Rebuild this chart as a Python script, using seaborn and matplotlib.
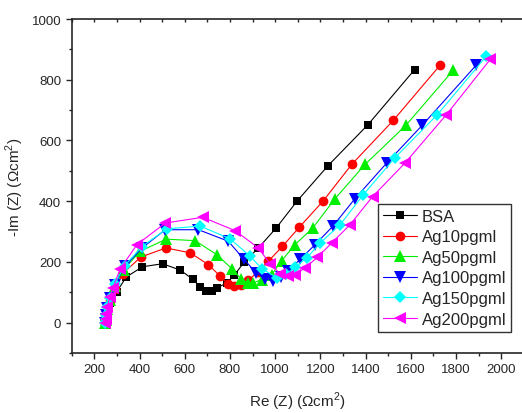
import matplotlib
matplotlib.use("Agg")
import matplotlib.pyplot as plt
import matplotlib.lines as mlines
import seaborn as sns
import pandas as pd
from matplotlib.ticker import MultipleLocator

series_names = ["BSA", "Ag10pgml", "Ag50pgml", "Ag100pgml", "Ag150pgml", "Ag200pgml"]

bsa_x = [248, 250, 253, 258, 268, 300, 341, 413, 502, 580, 636, 668, 694, 721, 745, 786, 819, 863, 926, 1004, 1098, 1233, 1411, 1617]
bsa_y = [0, 8, 20, 38, 65, 102, 150, 184, 194, 173, 143, 117, 104, 104, 115, 131, 156, 199, 246, 311, 401, 516, 652, 833]

ag10_x = [248, 250, 253, 258, 268, 290, 325, 406, 517, 624, 705, 757, 791, 819, 848, 882, 925, 970, 1032, 1107, 1213, 1339, 1523, 1729]
ag10_y = [0, 10, 22, 42, 70, 110, 161, 216, 246, 230, 191, 153, 128, 120, 124, 140, 168, 202, 251, 314, 401, 521, 666, 847]

ag50_x = [248, 250, 253, 258, 268, 290, 330, 403, 518, 646, 742, 808, 848, 880, 904, 941, 985, 1029, 1088, 1166, 1265, 1398, 1579, 1788]
ag50_y = [0, 10, 24, 45, 75, 120, 175, 235, 275, 270, 224, 178, 145, 130, 131, 142, 158, 204, 257, 311, 408, 521, 650, 831]

ag100_x = [248, 250, 253, 258, 268, 290, 335, 410, 514, 661, 793, 863, 916, 956, 992, 1025, 1059, 1110, 1177, 1255, 1353, 1493, 1651, 1891]
ag100_y = [0, 12, 25, 48, 80, 125, 185, 245, 306, 306, 268, 208, 164, 145, 137, 150, 171, 208, 257, 317, 408, 525, 650, 849]

ag150_x = [248, 250, 253, 258, 268, 290, 335, 410, 521, 668, 801, 889, 941, 1007, 1050, 1088, 1140, 1199, 1287, 1390, 1530, 1718, 1935]
ag150_y = [0, 12, 26, 50, 82, 128, 188, 250, 309, 318, 276, 219, 178, 148, 160, 183, 213, 262, 322, 421, 543, 685, 878]

ag200_x = [248, 250, 253, 258, 268, 283, 315, 389, 514, 680, 823, 926, 978, 1022, 1059, 1088, 1132, 1187, 1250, 1331, 1431, 1574, 1758, 1952]
ag200_y = [0, 12, 28, 52, 85, 115, 178, 257, 328, 347, 303, 246, 193, 161, 153, 158, 180, 215, 262, 322, 415, 525, 685, 867]

xs = [bsa_x, ag10_x, ag50_x, ag100_x, ag150_x, ag200_x]
ys = [bsa_y, ag10_y, ag50_y, ag100_y, ag150_y, ag200_y]

frames = []
for name, x, y in zip(series_names, xs, ys):
    frames.append(pd.DataFrame({"re": x, "im": y, "sample": name}))
df = pd.concat(frames, ignore_index=True)

colors = ["#000000", "#ff0000", "#00ee00", "#0000ff", "#00ffff", "#ff00ff"]
markers = ["s", "o", "^", "v", "D", "<"]
msizes = [6, 7, 8, 8, 6.5, 8]

sns.set_style("ticks")
plt.rcParams["font.family"] = ["Liberation Sans", "DejaVu Sans"]
plt.rcParams["mathtext.fontset"] = "custom"
plt.rcParams["mathtext.rm"] = "Liberation Sans"

fig = plt.figure(figsize=(5.22, 4.14), dpi=100)
ax = fig.add_axes([71.7 / 522, 60 / 414, 452 / 522, 334 / 414])

for name, c, m, ms in zip(series_names, colors, markers, msizes):
    sub = df[df["sample"] == name]
    sns.lineplot(data=sub, x="re", y="im", sort=False, estimator=None, color=c,
                 marker=m, markersize=ms, markeredgewidth=0, linewidth=0.8,
                 label=name, ax=ax)

ax.set_xlim(100, 2100)
ax.set_ylim(-100, 1000)
ax.xaxis.set_minor_locator(MultipleLocator(100))
ax.yaxis.set_minor_locator(MultipleLocator(100))
ax.set_xticks([200, 400, 600, 800, 1000, 1200, 1400, 1600, 1800, 2000])
ax.set_yticks([0, 200, 400, 600, 800, 1000])
ax.tick_params(axis="both", which="major", length=4, width=1, labelsize=9.5, direction="out")
ax.tick_params(axis="both", which="minor", length=2.5, width=1, direction="out")
ax.tick_params(axis="x", which="both", top=True, labeltop=False)
for t in ax.xaxis.get_major_ticks() + ax.xaxis.get_minor_ticks():
    t.tick2line.set_marker(mlines.TICKDOWN)
    t.tick2line.set_color("#bbbbbb")
    t.tick2line.set_markersize(2)
for sp in ["left", "bottom", "top"]:
    ax.spines[sp].set_linewidth(1.2)
ax.spines["right"].set_visible(False)

ax.set_xlabel("Re (Z) (Ωcm$^2$)", fontsize=11, labelpad=10)
ax.set_ylabel("-Im (Z) (Ωcm$^2$)", fontsize=11, labelpad=4)

leg = ax.legend(loc="upper left", bbox_to_anchor=((378.3 - 71.7) / 452, (354 - 205) / 334),
                fontsize=12, frameon=True, fancybox=False, framealpha=1,
                edgecolor="#333333", borderpad=0.3, labelspacing=0.33,
                handlelength=2.0, handletextpad=0.3, borderaxespad=0)
leg.get_frame().set_linewidth(1.0)

fig.savefig("out.png", dpi=100)
